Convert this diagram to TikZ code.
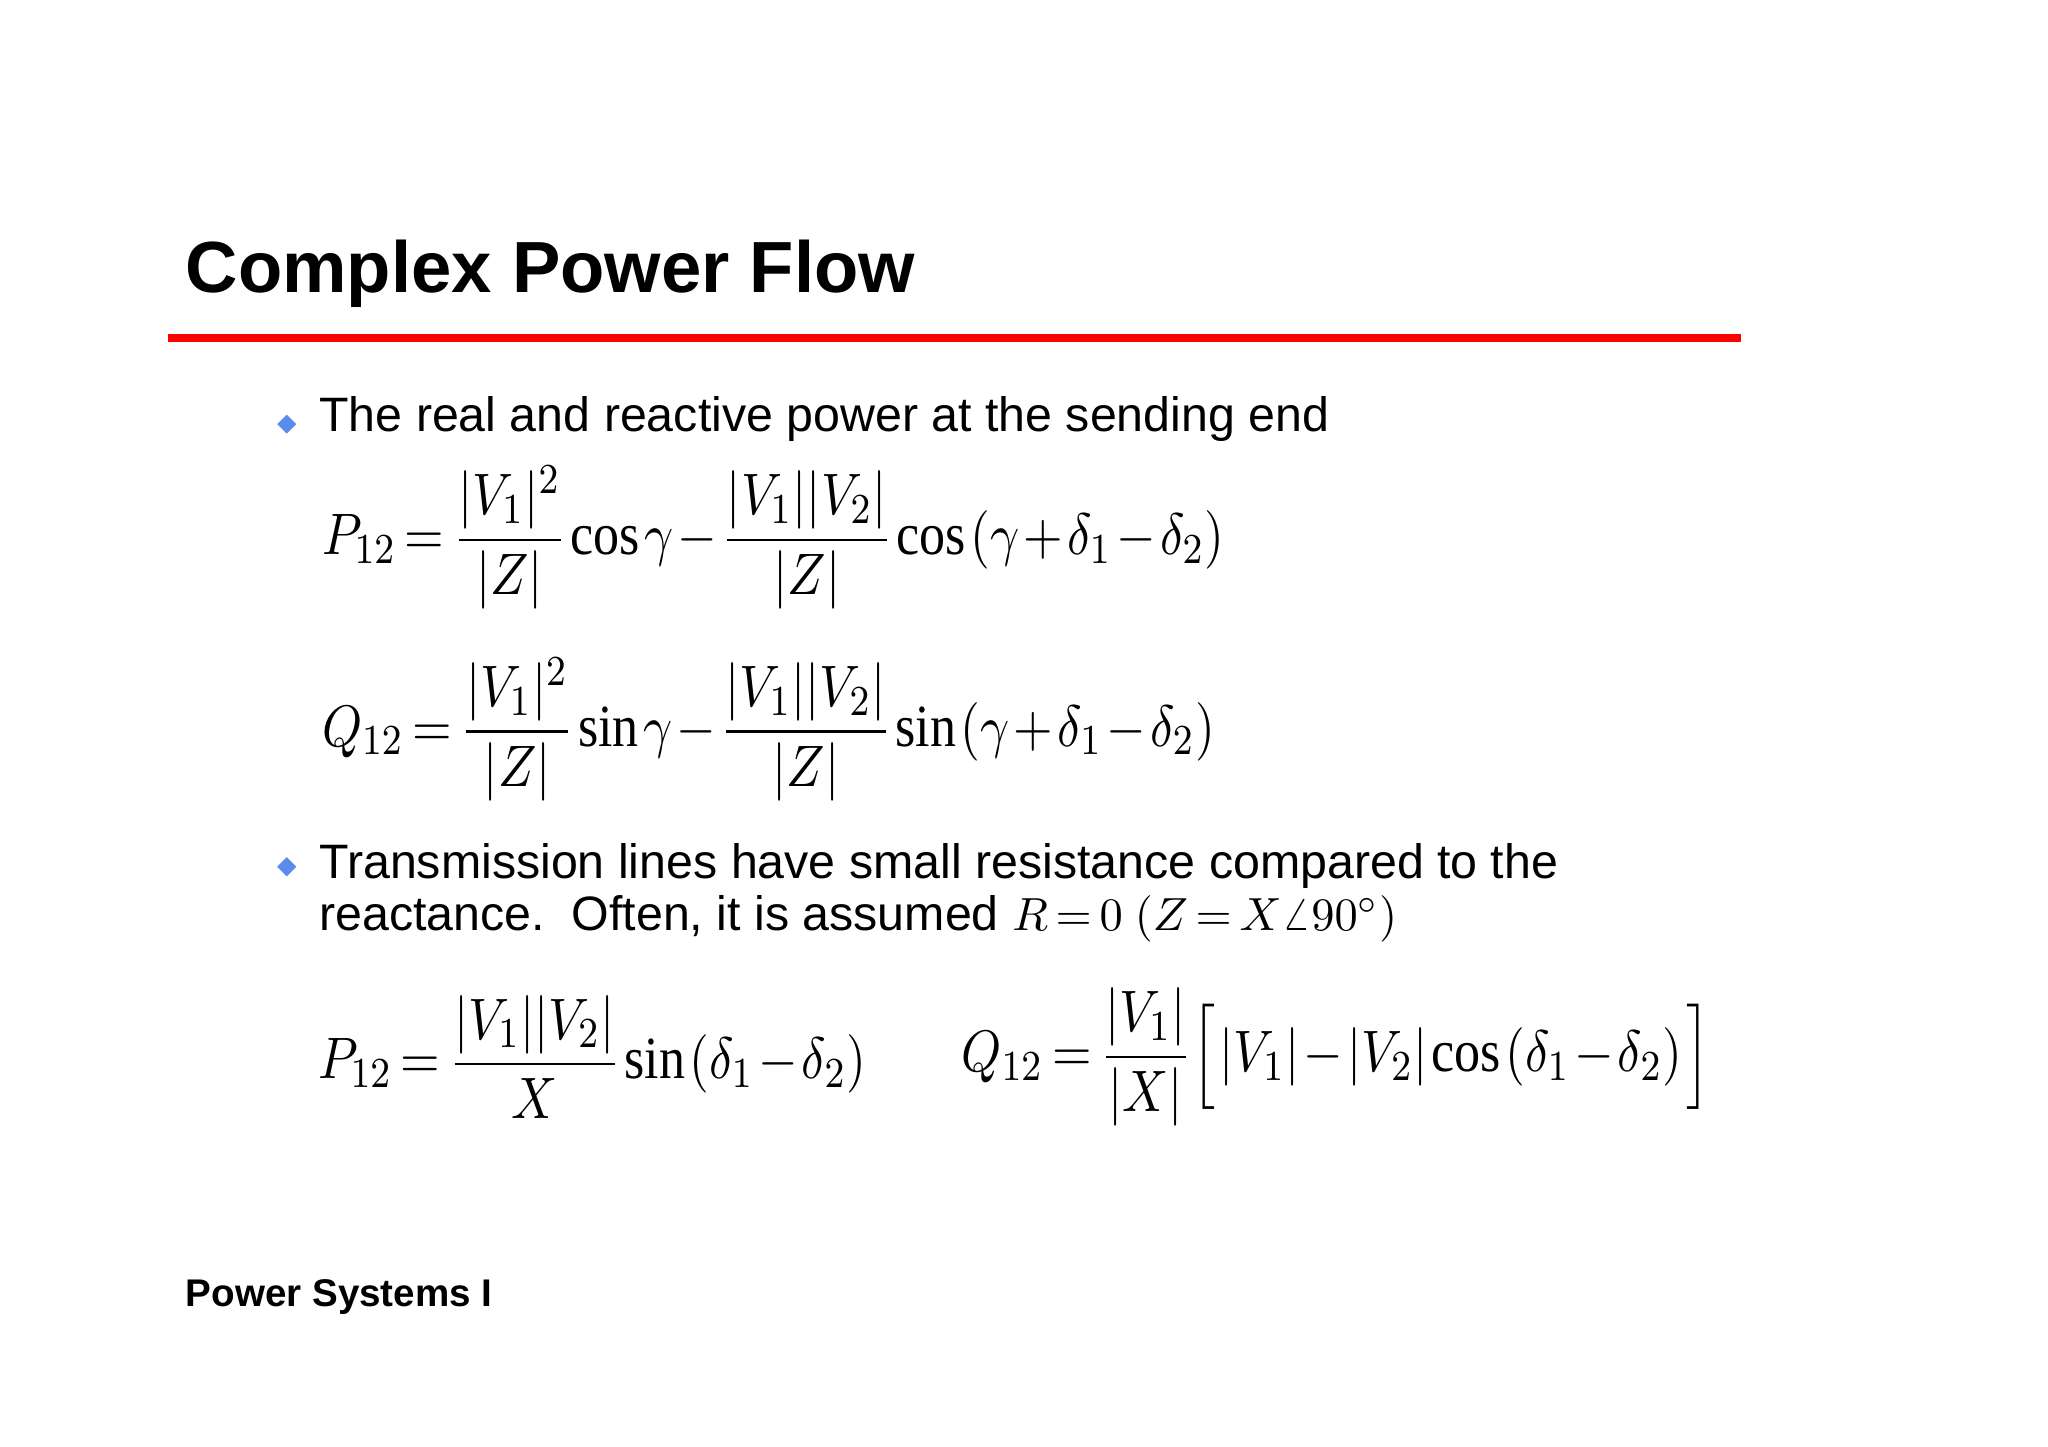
\documentclass[tikz,border=0pt]{standalone}
\usepackage{amsmath}
\usepackage{fontspec}
\setmainfont{Liberation Serif}
\setsansfont{Liberation Sans}
\usetikzlibrary{shapes.geometric}
\definecolor{bul}{HTML}{5A8CEB}
\newcommand{\tightmath}{\thickmuskip=3mu plus 1mu\medmuskip=1.5mu\thinmuskip=1.5mu}
\begin{document}
\begin{tikzpicture}[x=0.01cm,y=-0.01cm,
  txt/.style={anchor=west,inner sep=0pt,font=\fontsize{10.4}{12}\selectfont\sffamily},
  eq/.style={anchor=west,inner sep=0pt,font=\fontsize{11.2}{13}\selectfont\tightmath},
  bullet/.style={diamond,fill=bul,inner sep=0pt,minimum size=0.15cm}]
\useasboundingbox (0,0) rectangle (1550,1095);
\node[anchor=west,inner sep=0pt,font=\fontsize{15.6}{20}\selectfont\sffamily\bfseries] (title) at (140,207) {Complex Power Flow};
\coordinate (l1) at (127,256);
\coordinate (l2) at (1318,256);
\draw[red,line width=1.7pt] (l1) -- (l2);
\node[bullet] (b1) at (217,321) {};
\node[txt] (t1) at (241,317) {The real and reactive power at the sending end};
\node[eq] (p) at (243,407) {\scalebox{1}[1.15]{$P_{12}=\dfrac{|V_1|^2}{|Z|}\cos\gamma-\dfrac{|V_1||V_2|}{|Z|}\cos\left(\gamma+\delta_1-\delta_2\right)$}};
\node[eq] (q) at (243,552) {\scalebox{1}[1.15]{$Q_{12}=\dfrac{|V_1|^2}{|Z|}\sin\gamma-\dfrac{|V_1||V_2|}{|Z|}\sin\left(\gamma+\delta_1-\delta_2\right)$}};
\node[bullet] (b2) at (217,656) {};
\node[txt,align=left,anchor=north west] (t2) at (241,638) {Transmission lines have small resistance compared to the\\[-1pt] reactance.\ \ Often, it is assumed {\rmfamily\tightmath$R=0$ $(Z=X\angle 90^\circ)$}};
\node[eq] (p2) at (240,800) {\scalebox{1}[1.15]{$P_{12}=\dfrac{|V_1||V_2|}{X}\sin\left(\delta_1-\delta_2\right)$}};
\node[eq] (q2) at (727,800) {\scalebox{1}[1.15]{$Q_{12}=\dfrac{|V_1|}{|X|}\Big[\,|V_1|-|V_2|\cos\left(\delta_1-\delta_2\right)\Big]$}};
\node[anchor=west,inner sep=0pt,font=\fontsize{8.3}{10}\selectfont\sffamily\bfseries] (foot) at (140,982) {Power Systems I};
\end{tikzpicture}
\end{document}
